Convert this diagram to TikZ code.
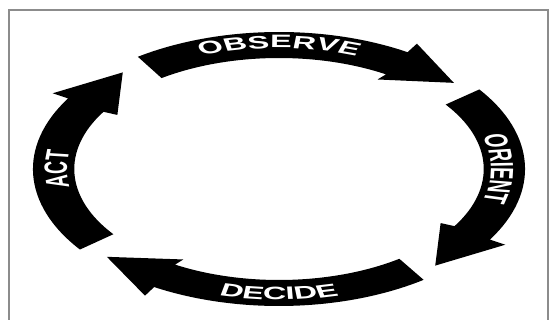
\documentclass[tikz,border=0pt]{standalone}
\usepackage{fontspec}
\setmainfont{Liberation Sans}
\usetikzlibrary{decorations.text}

\newcommand{\cyclefont}{\fontsize{18}{18}\selectfont\bfseries}

\begin{document}
\begin{tikzpicture}[
    x=1pt, y=1pt,
    frame/.style={draw=black!45, line width=1.5pt},
    cyclearrow/.style={fill=black},
    cyclelabel/.style={decorate, decoration={text along path, text align=center, text color=white, text={|\cyclefont|#1}}}
]
    % Page size and the scanned frame
    \useasboundingbox (-279,-151) rectangle (272,169);
    \coordinate (bl) at (-270,-160);
    \coordinate (tl) at (-270,159);
    \coordinate (tr) at (269,159);
    \coordinate (br) at (269,-160);
    \draw[frame] (bl) -- (tl) -- (tr) -- (br);

    % The loop is drawn as a circle, then stretched sideways
    \begin{scope}[transform canvas={xscale=1.796}]
        \foreach \tail/\back/\tip in {125/58.5/41.5, 35.5/-31/-48, -54/-120.5/-137.5, -144/-211/-228} {
            \fill[cyclearrow] (\tail:137pt) arc[start angle=\tail, end angle=\back, radius=137pt]
                -- (\back:147pt) -- (\tip:130pt) -- (\back:105pt)
                -- (\back:114pt and 111pt) arc[start angle=\back, end angle=\tail, x radius=114pt, y radius=111pt] -- cycle;
        }

        % Labels along the arrows
        \path[cyclelabel=OBSERVE] (130:121pt) arc[start angle=130, end angle=50, radius=121pt];
        \path[cyclelabel=ORIENT] (40:118pt) arc[start angle=40, end angle=-40, radius=118pt];
        \path[cyclelabel=DECIDE] (-130:131pt) arc[start angle=-130, end angle=-50, radius=131pt];
        \path[cyclelabel=ACT] (220:118pt) arc[start angle=220, end angle=140, radius=118pt];
    \end{scope}
\end{tikzpicture}
\end{document}
